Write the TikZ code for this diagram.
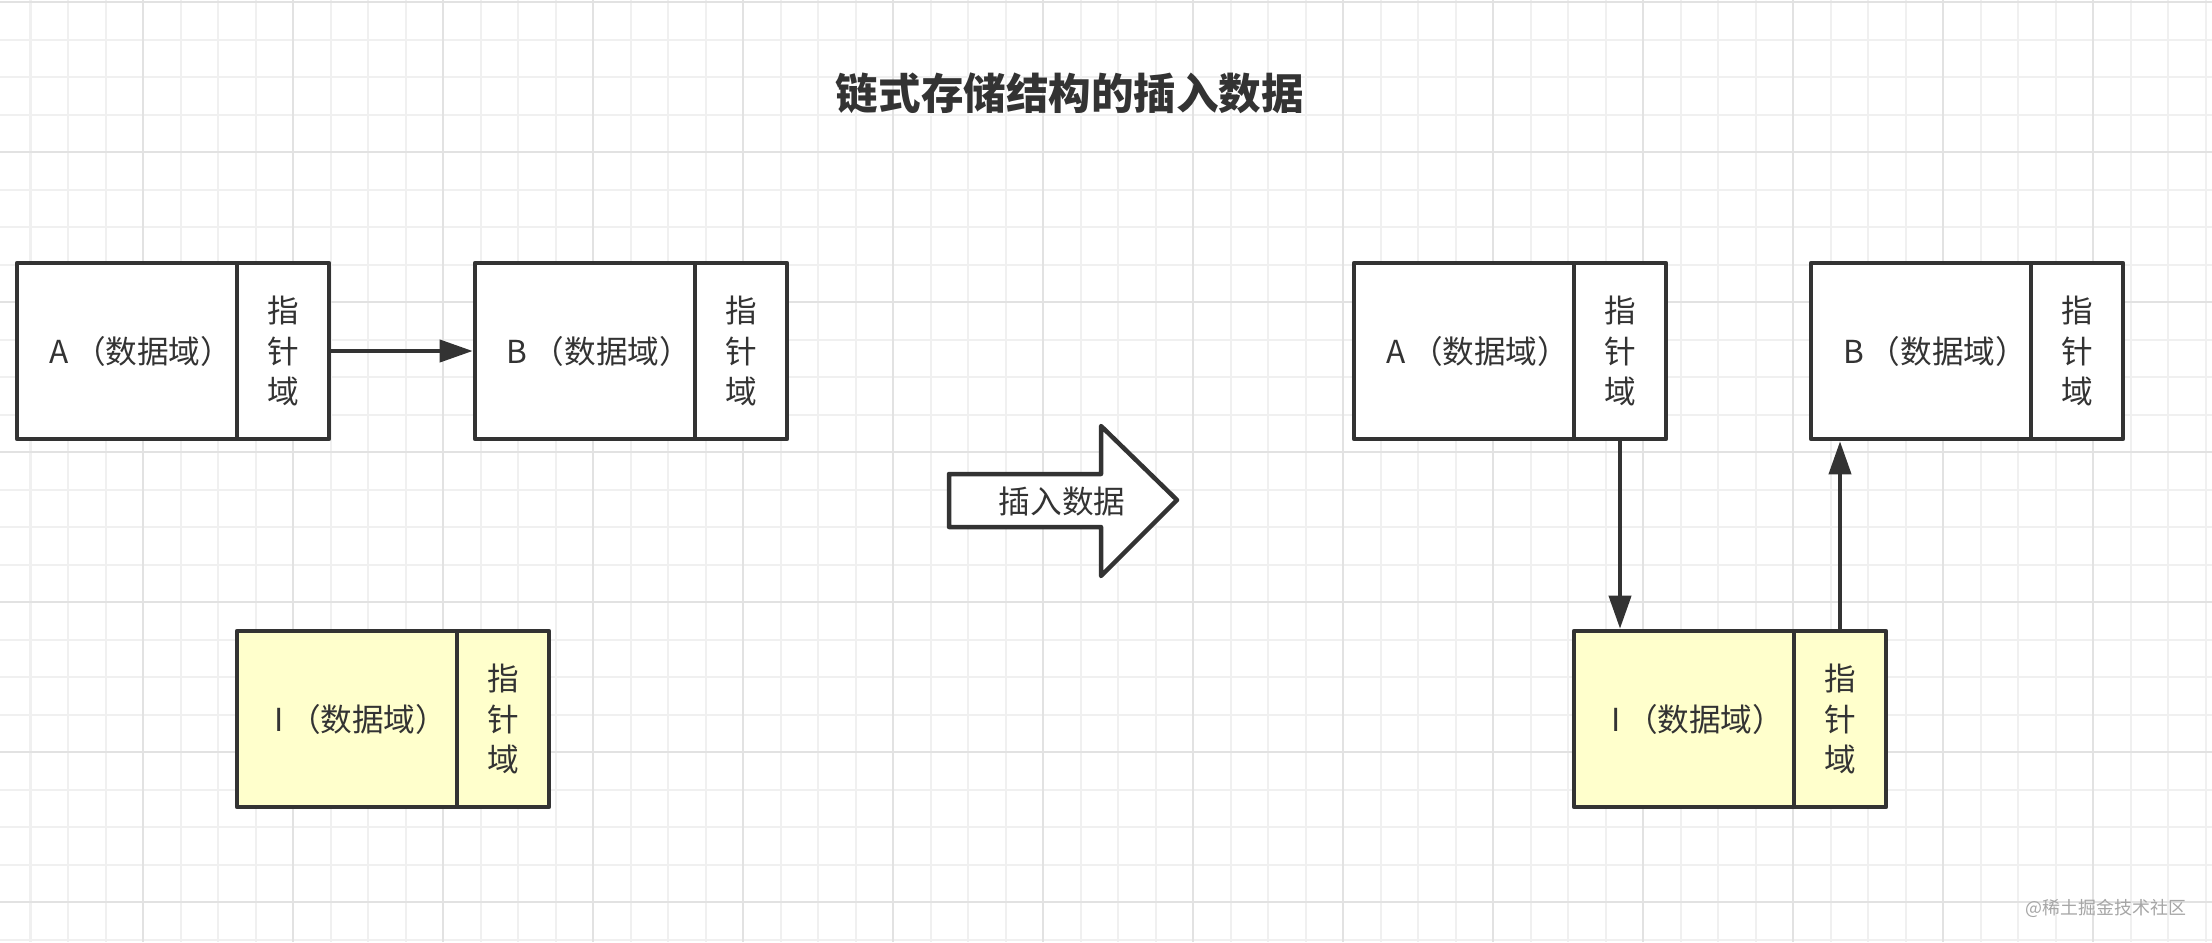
\documentclass[tikz,border=0pt]{standalone}
\usepackage{fontspec}
\setmainfont{Noto Sans CJK SC}
\usetikzlibrary{arrows.meta}
\definecolor{ink}{HTML}{333333}
\definecolor{gridminor}{HTML}{F0F0F0}
\definecolor{gridmajor}{HTML}{E2E2E2}
\definecolor{nodeyellow}{HTML}{FFFFCC}
\definecolor{wmgray}{HTML}{A6A6A6}
\newcommand{\datatext}[1]{\hspace*{0.28cm}#1\hspace{0.05cm}（数据域）}
\tikzset{
  cell/.style={draw=ink, fill=white, line width=0.045cm, minimum height=1.76cm, inner sep=0pt,
    text=ink, font=\fontsize{9}{11.6}\selectfont, align=center, line join=round},
  datacell/.style={cell, minimum width=2.2cm},
  ptrcell/.style={cell, minimum width=0.92cm},
  newcell/.style={fill=nodeyellow},
  link/.style={draw=ink, line width=0.04cm, -{Triangle[length=0.33cm,width=0.22cm]}},
  minorline/.style={draw=gridminor, line width=0.02cm},
  majorline/.style={draw=gridmajor, line width=0.025cm},
}
\begin{document}
\begin{tikzpicture}[x=0.01cm,y=-0.01cm]
\useasboundingbox (0,0) rectangle (2212,942);
\fill[white] (0,0) rectangle (2212,942);
\begin{scope}
  \clip (0,0) rectangle (2212,942);
  \foreach \k in {1,...,59} {
    \pgfmathsetmacro\xx{-7+37.5*\k}
    \draw[minorline] (\xx,0) -- (\xx,942);
  }
  \foreach \k in {0,...,25} {
    \pgfmathsetmacro\yy{2+37.5*\k}
    \draw[minorline] (0,\yy) -- (2212,\yy);
  }
  \foreach \m in {0,...,13} {
    \pgfmathsetmacro\xx{143+150*\m}
    \draw[majorline] (\xx,0) -- (\xx,942);
  }
  \foreach \m in {0,...,6} {
    \pgfmathsetmacro\yy{2+150*\m}
    \draw[majorline] (0,\yy) -- (2212,\yy);
  }
\end{scope}

% title
\node[text=ink, font=\fontsize{12.1}{14}\selectfont\bfseries] (title) at (1070,93) {链式存储结构的插入数据};

% left: before insertion
\node[datacell] (Ad) at (127,351) {\datatext{A}};
\node[ptrcell] (Ap) at (283,351) {指\\针\\域};
\node[datacell] (Bd) at (585,351) {\datatext{B}};
\node[ptrcell] (Bp) at (741,351) {指\\针\\域};
\node[datacell, newcell] (Id) at (347,719) {\datatext{I}};
\node[ptrcell, newcell] (Ip) at (503,719) {指\\针\\域};
\draw[link] (Ap.east) -- (Bd.west);

% big arrow
\draw[ink, fill=white, line width=0.045cm, line join=round]
  (949,474) -- (1101,474) -- (1101,426) -- (1177,500) -- (1101,576) -- (1101,527) -- (949,527) -- cycle;
\node[text=ink, font=\fontsize{9}{11}\selectfont] (ins) at (1062,501) {插入数据};

% right: after insertion
\node[datacell] (rAd) at (1464,351) {\datatext{A}};
\node[ptrcell] (rAp) at (1620,351) {指\\针\\域};
\node[datacell] (rBd) at (1921,351) {\datatext{B}};
\node[ptrcell] (rBp) at (2077,351) {指\\针\\域};
\node[datacell, newcell] (rId) at (1684,719) {\datatext{I}};
\node[ptrcell, newcell] (rIp) at (1840,719) {指\\针\\域};
\draw[link] (rAp.south) -- (rAp.south |- rId.north);
\draw[link] (rIp.north) -- (rIp.north |- rBd.south);

% watermark
\node[text=wmgray, font=\fontsize{5.1}{6}\selectfont] (wm) at (2106,908) {@稀土掘金技术社区};
\end{tikzpicture}
\end{document}
